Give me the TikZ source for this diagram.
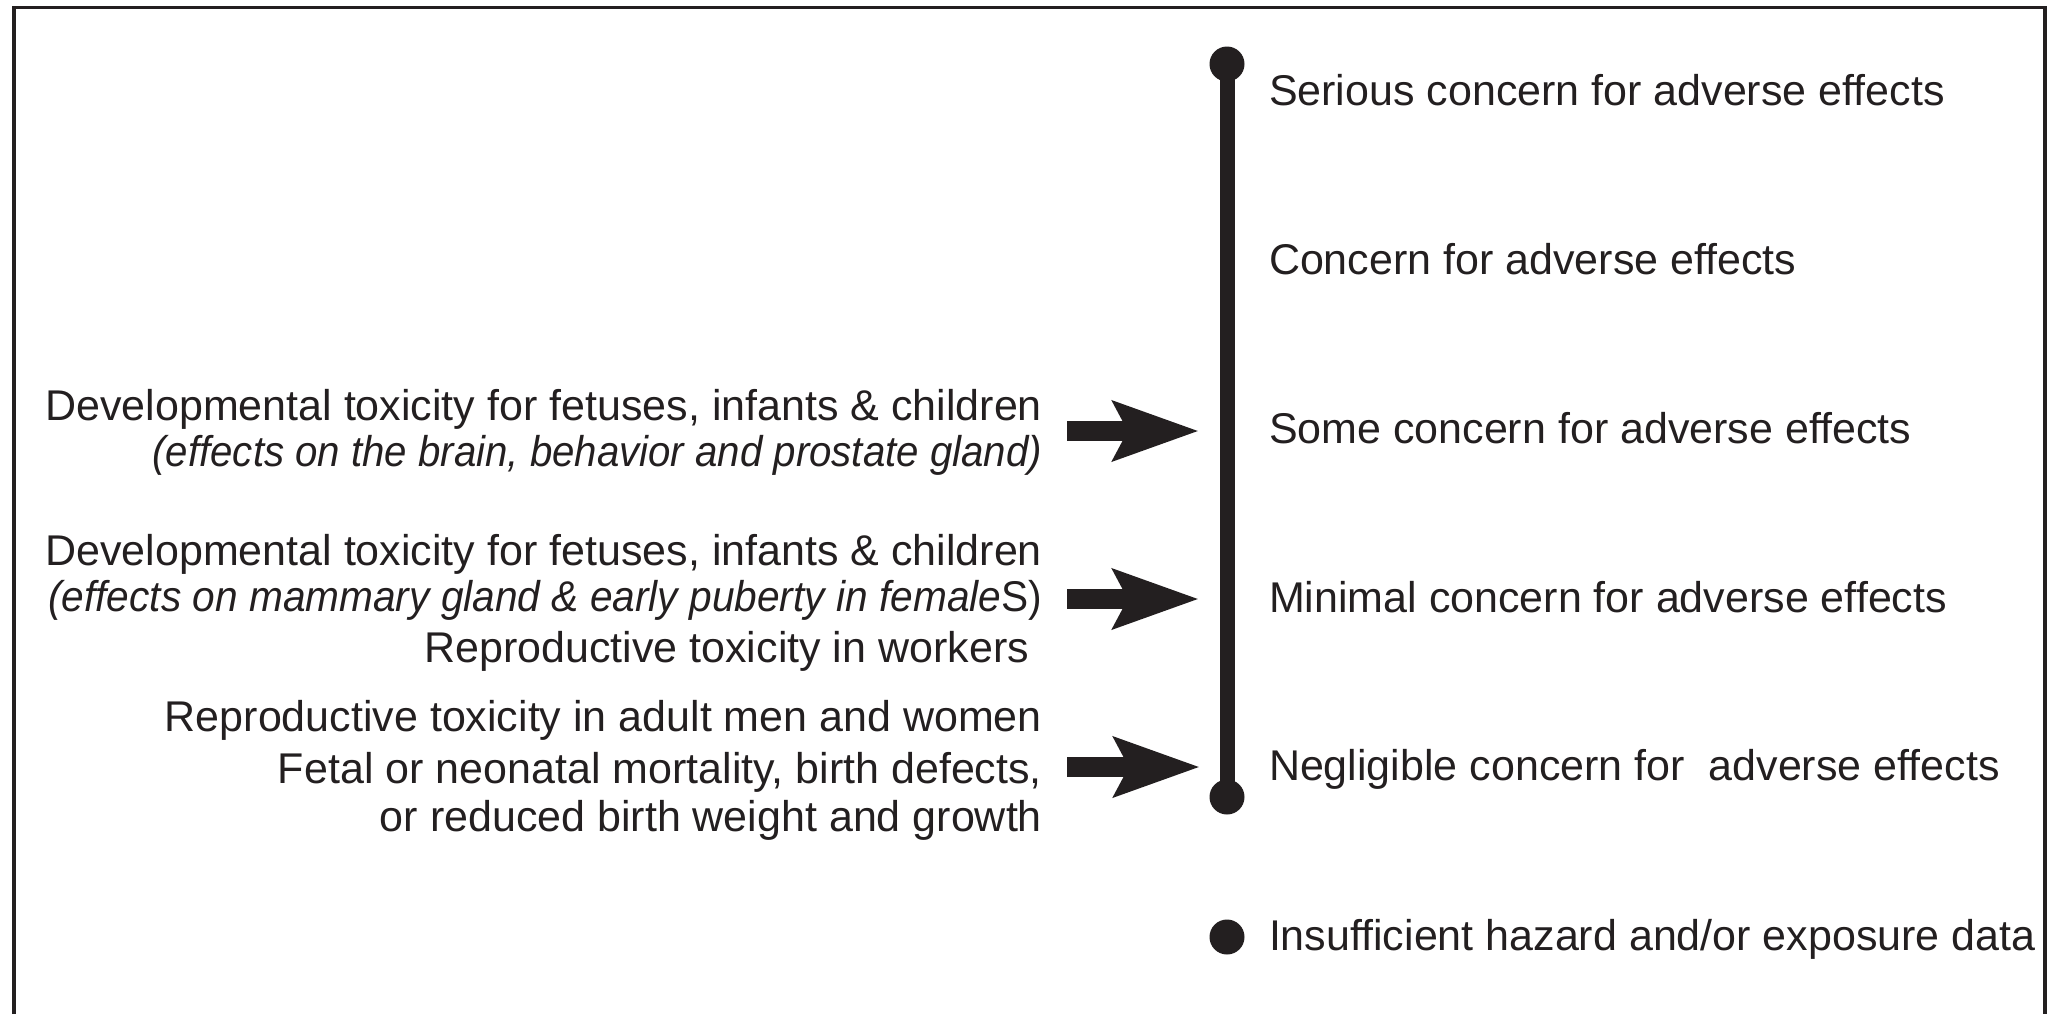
\documentclass[tikz,border=0pt]{standalone}
\usepackage{fontspec}
\setmainfont{Liberation Sans}
\usetikzlibrary{arrows.meta}
\definecolor{ink}{RGB}{35,31,32}
\begin{document}
\begin{tikzpicture}[x=0.5pt,y=-0.5pt,
  lbl/.style={font=\fontsize{21.5}{26}\selectfont, text=ink, inner sep=0pt, outer sep=0pt},
  rlbl/.style={lbl, anchor=base west},
  llbl/.style={lbl, anchor=base east},
  dot/.style={circle, fill=ink, inner sep=0pt, minimum size=17.5pt},
  bigarrow/.style={draw=ink, line width=10pt, -{Stealth[length=42.5pt,width=29pt,inset=7pt]}},
  frame/.style={draw=ink, line width=1.75pt},
  bar/.style={draw=ink, line width=7.5pt}
]
\useasboundingbox (0,0) rectangle (2047,1014);
\draw[frame] (14,1014) -- (14,7.5) -- (2045,7.5) -- (2045,1014);

% scale
\node[dot] (top) at (1227,64) {};
\node[dot] (bot) at (1227,797) {};
\draw[bar] (top.center) -- (bot.center);
\node[dot] (ins) at (1227,937) {};

% right labels
\node[rlbl] (r1) at (1269,105.7) {Serious concern for adverse effects};
\node[rlbl] (r2) at (1269,274.5) {Concern for adverse effects};
\node[rlbl] (r3) at (1269,443) {Some concern for adverse effects};
\node[rlbl] (r4) at (1269,612) {Minimal concern for adverse effects};
\node[rlbl] (r5) at (1269,780.7) {Negligible concern for\ \ adverse effects};
\node[rlbl] (r6) at (1269,950.7) {Insufficient hazard and/or exposure data};

% left labels
\node[llbl] (l1) at (1042,420.7) {Developmental toxicity for fetuses, infants \& children};
\node[llbl] (l2) at (1042,466.7) {\scalebox{0.935}[1]{\itshape (effects on the brain, behavior and prostate gland)}};
\node[llbl] (l3) at (1042,565) {Developmental toxicity for fetuses, infants \& children};
\node[llbl] (l4) at (1042,611.7) {\scalebox{0.945}[1]{\textit{(effects on mammary gland \& early puberty in female}S)}};
\node[llbl] (l5) at (1029,662.7) {Reproductive toxicity in workers};
\node[llbl] (l6) at (1042,731.7) {Reproductive toxicity in adult men and women};
\node[llbl] (l7) at (1042,783) {Fetal or neonatal mortality, birth defects,};
\node[llbl] (l8) at (1042,831.7) {or reduced birth weight and growth};

% arrows
\coordinate (a1s) at (1067,431);
\coordinate (a1e) at (1199,431);
\coordinate (a2s) at (1067,599);
\coordinate (a2e) at (1199,599);
\coordinate (a3s) at (1067,767);
\coordinate (a3e) at (1200,767);
\draw[bigarrow] (a1s) -- (a1e);
\draw[bigarrow] (a2s) -- (a2e);
\draw[bigarrow] (a3s) -- (a3e);
\end{tikzpicture}
\end{document}
